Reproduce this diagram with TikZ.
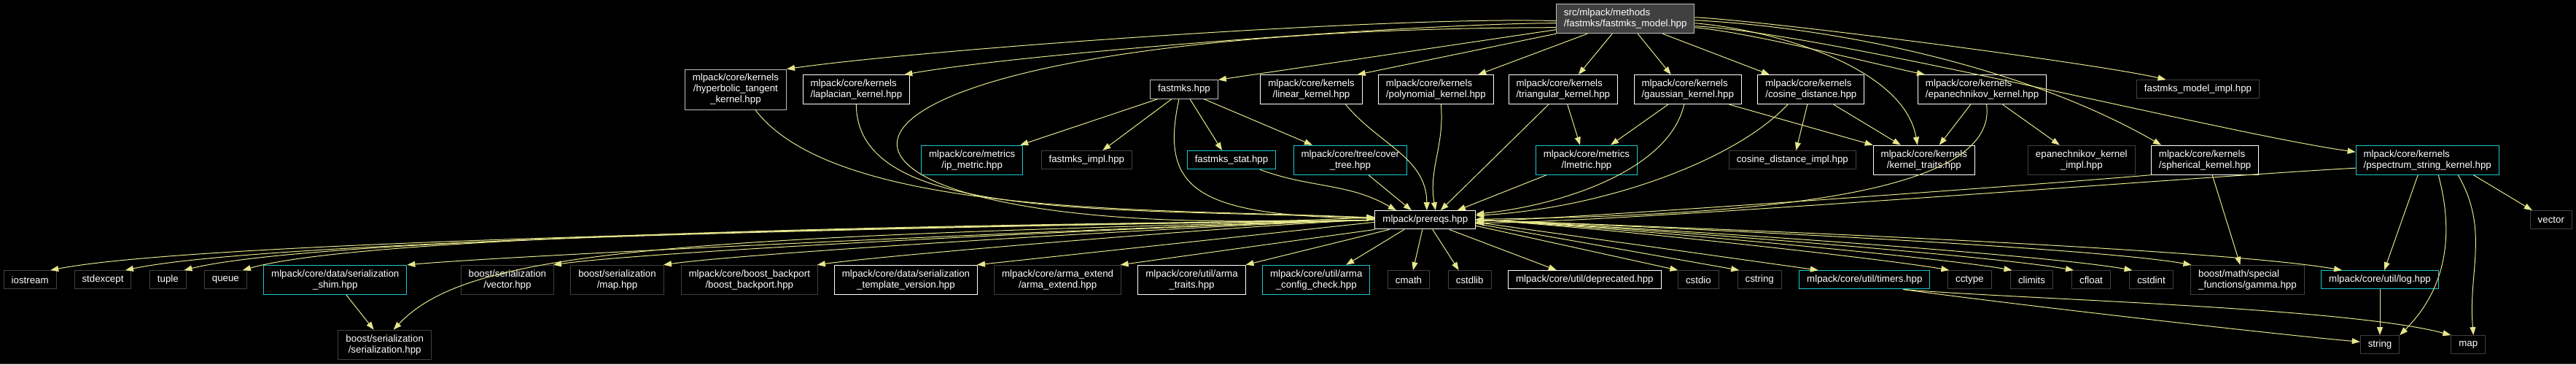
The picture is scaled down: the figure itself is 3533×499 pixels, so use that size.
\documentclass[tikz,border=0pt]{standalone}
\usepackage{fontspec}
\setmainfont{Liberation Sans}
\usetikzlibrary{arrows.meta}
\definecolor{rimgray}{RGB}{191,191,191}
\definecolor{extgray}{RGB}{64,64,64}
\definecolor{linkcyan}{RGB}{25,200,205}
\definecolor{edgeyellow}{RGB}{230,230,140}
\definecolor{rootfill}{RGB}{64,64,64}
\begin{document}
\begin{tikzpicture}[x=1pt, y=1pt,
  file/.style={draw=white, fill=black, text=white, line width=1pt, inner xsep=10.5pt, inner ysep=0pt, align=center, font=\fontsize{13.3}{15}\selectfont},
  ext/.style={file, draw=extgray}, link/.style={file, draw=linkcyan},
  l1/.style={minimum height=25.3pt}, l2/.style={minimum height=40pt}, l3/.style={minimum height=55pt},
  inc/.style={draw=edgeyellow, line width=1pt, -{Triangle[length=11pt,width=8pt]}}]
\useasboundingbox (0,0) rectangle (3533,-499);
\fill[black] (0,0) rectangle (3533,-499); \draw[gray!60!black, line width=1pt] (0,-498.5) -- (3533,-498.5);
\node[file, l2, align=left, fill=rootfill, draw=rimgray] (root) at (2229.2,-25.7) {src/mlpack/methods\\/fastmks/fastmks\_model.hpp};
\node[file, l3, draw=rimgray] (hyperbolic) at (1008.9,-122.5) {mlpack/core/kernels\\/hyperbolic\_tangent\\\_kernel.hpp};
\node[file, l2, align=left] (laplacian) at (1174.4,-122.7) {mlpack/core/kernels\\/laplacian\_kernel.hpp};
\node[file, l1, draw=rimgray] (fastmks) at (1624,-122.5) {fastmks.hpp};
\node[file, l2] (linear) at (1798.5,-122.7) {mlpack/core/kernels\\/linear\_kernel.hpp};
\node[file, l2, align=left] (polynomial) at (1969.3,-122.7) {mlpack/core/kernels\\/polynomial\_kernel.hpp};
\node[file, l2, align=left] (triangular) at (2143.8,-122.7) {mlpack/core/kernels\\/triangular\_kernel.hpp};
\node[file, l2, align=left] (gaussian) at (2314.7,-122.7) {mlpack/core/kernels\\/gaussian\_kernel.hpp};
\node[file, l2, align=left] (cosine) at (2483.8,-122.7) {mlpack/core/kernels\\/cosine\_distance.hpp};
\node[file, l2, align=left] (epan) at (2718.6,-122.7) {mlpack/core/kernels\\/epanechnikov\_kernel.hpp};
\node[ext, l1] (modelimpl) at (3014.5,-122.2) {fastmks\_model\_impl.hpp};
\node[link, l2] (ipmetric) at (1333.2,-219.2) {mlpack/core/metrics\\/ip\_metric.hpp};
\node[ext, l1] (fimpl) at (1490.3,-219.2) {fastmks\_impl.hpp};
\node[link, l1] (fstat) at (1689,-219.2) {fastmks\_stat.hpp};
\node[link, l2] (covertree) at (1851.9,-219.2) {mlpack/core/tree/cover\\\_tree.hpp};
\node[link, l2] (lmetric) at (2176,-219.2) {mlpack/core/metrics\\/lmetric.hpp};
\node[ext, l1] (cosimpl) at (2458.3,-219.2) {cosine\_distance\_impl.hpp};
\node[file, l2] (ktraits) at (2638.8,-219.2) {mlpack/core/kernels\\/kernel\_traits.hpp};
\node[ext, l2] (epanimpl) at (2854.8,-219.2) {epanechnikov\_kernel\\\_impl.hpp};
\node[file, l2, align=left] (spherical) at (3024.1,-219.2) {mlpack/core/kernels\\/spherical\_kernel.hpp};
\node[link, l2, align=left] (pspectrum) at (3329.2,-219.2) {mlpack/core/kernels\\/pspectrum\_string\_kernel.hpp};
\node[file, l1] (prereqs) at (1954.8,-301.3) {mlpack/prereqs.hpp};
\node[ext, l1] (vector) at (3498.8,-301.2) {vector};
\node[ext, l1] (iostream) at (41.2,-383.3) {iostream};
\node[ext, l1] (stdexcept) at (141,-383.3) {stdexcept};
\node[ext, l1] (tuple) at (230.4,-383.3) {tuple};
\node[ext, l1] (queue) at (309.4,-383.3) {queue};
\node[link, l2] (shim) at (459.8,-383.3) {mlpack/core/data/serialization\\\_shim.hpp};
\node[ext, l2] (bvector) at (695.9,-383.3) {boost/serialization\\/vector.hpp};
\node[ext, l2] (bmap) at (846.5,-383.3) {boost/serialization\\/map.hpp};
\node[ext, l2] (backport) at (1027.8,-383.3) {mlpack/core/boost\_backport\\/boost\_backport.hpp};
\node[file, l2] (tversion) at (1242.5,-383.3) {mlpack/core/data/serialization\\\_template\_version.hpp};
\node[ext, l2] (armaext) at (1450.6,-383.3) {mlpack/core/arma\_extend\\/arma\_extend.hpp};
\node[file, l2] (armatraits) at (1634.5,-383.3) {mlpack/core/util/arma\\\_traits.hpp};
\node[link, l2] (armaconf) at (1805.2,-383.3) {mlpack/core/util/arma\\\_config\_check.hpp};
\node[ext, l1] (cmath) at (1932,-383.3) {cmath};
\node[ext, l1] (cstdlib) at (2015.7,-383.3) {cstdlib};
\node[file, l1] (deprecated) at (2173.3,-383.3) {mlpack/core/util/deprecated.hpp};
\node[ext, l1] (cstdio) at (2329.4,-383.3) {cstdio};
\node[ext, l1] (cstring) at (2413.2,-383.3) {cstring};
\node[link, l1] (timers) at (2557.3,-383.3) {mlpack/core/util/timers.hpp};
\node[ext, l1] (cctype) at (2701.3,-383.3) {cctype};
\node[ext, l1] (climits) at (2786.5,-383.3) {climits};
\node[ext, l1] (cfloat) at (2868,-383.3) {cfloat};
\node[ext, l1] (cstdint) at (2950.5,-383.3) {cstdint};
\node[ext, l2, align=left] (gamma) at (3082.4,-383.3) {boost/math/special\\\_functions/gamma.hpp};
\node[link, l1] (log) at (3264,-383.3) {mlpack/core/util/log.hpp};
\node[ext, l2] (serial) at (527.7,-472.2) {boost/serialization\\/serialization.hpp};
\node[ext, l1] (string) at (3264,-472.2) {string};
\node[ext, l1] (map) at (3385.3,-472.2) {map};
\draw[inc] ([yshift=-3]root.west) .. controls +(178:207) and +(8:207) .. (hyperbolic.north east);
\draw[inc] ([yshift=-6]root.west) .. controls +(180:176) and +(10:176) .. ([xshift=-8]laplacian.north east);
\draw[inc] ([yshift=-12]root.west) .. controls (950,-40) and (1000,-345) .. ([yshift=4]prereqs.west);
\draw[inc] ([yshift=-15]root.west) -- (fastmks.north east); \draw[inc] (root.south west) -- ([xshift=-7]linear.north east);
\draw[inc] ([xshift=-52]root.south) -- ([xshift=58]polynomial.north); \draw[inc] ([xshift=-18]root.south) -- ([xshift=21]triangular.north);
\draw[inc] ([xshift=17]root.south) -- ([xshift=-23]gaussian.north); \draw[inc] ([xshift=51]root.south) -- ([xshift=-57]cosine.north);
\draw[inc] ([yshift=-12]root.east) .. controls +(-5:76) and +(168:76) .. ([xshift=10]epan.north west);
\draw[inc] ([yshift=-6]root.east) .. controls +(-5:109) and +(100:109) .. ([xshift=-9]ktraits.north);
\draw[inc] ([yshift=2]root.east) .. controls +(-3:102) and +(167:102) .. ([xshift=-44]modelimpl.north);
\draw[inc] ([yshift=-2]root.east) .. controls +(-3:207) and +(150:207) .. ([xshift=-60]spherical.north);
\draw[inc] ([yshift=-10]root.east) .. controls +(-3:181) and +(172:181) .. ([yshift=11]pspectrum.west);
\draw[inc] ([xshift=-36]fastmks.south) -- ([xshift=66]ipmetric.north); \draw[inc] ([xshift=-17]fastmks.south) -- ([xshift=22]fimpl.north);
\draw[inc] ([xshift=8]fastmks.south) -- ([xshift=-13]fstat.north); \draw[inc] ([xshift=27]fastmks.south) -- ([xshift=-52]covertree.north);
\draw[inc] ([xshift=-7]fastmks.south) .. controls (1590,-260) and (1640,-295) .. ([yshift=2]prereqs.west);
\draw[inc] ([xshift=27]hyperbolic.south) .. controls (1150,-300) and (1600,-285) .. ([yshift=3]prereqs.west);
\draw[inc] (laplacian.south) .. controls (1175,-300) and (1500,-285) .. ([yshift=3]prereqs.west);
\draw[inc] ([xshift=47]linear.south) .. controls +(-50:72) and +(90:72) .. ([xshift=2]prereqs.north);
\draw[inc] ([xshift=7]polynomial.south) .. controls +(-85:57) and +(100:57) .. ([xshift=14]prereqs.north);
\draw[inc] ([xshift=-20]triangular.south) -- ([xshift=21]prereqs.north); \draw[inc] ([xshift=6]triangular.south) -- ([xshift=-9]lmetric.north);
\draw[inc] ([xshift=-55]lmetric.south) -- ([xshift=44]prereqs.north); \draw[inc] ([xshift=25]covertree.south) -- ([xshift=-19]prereqs.north);
\draw[inc] ([xshift=39]fstat.south) .. controls +(-20:76) and +(150:76) .. ([xshift=-40]prereqs.north);
\draw[inc] ([xshift=-5]gaussian.south) .. controls (2290,-230) and (2150,-280) .. ([yshift=8]prereqs.east);
\draw[inc] ([xshift=-32]cosine.south) .. controls (2380,-220) and (2200,-285) .. ([yshift=6]prereqs.east);
\draw[inc] ([xshift=-27]gaussian.south) -- ([xshift=33]lmetric.north); \draw[inc] ([xshift=57]gaussian.south) -- (ktraits.north west);
\draw[inc] ([xshift=-5]cosine.south) -- ([xshift=5]cosimpl.north); \draw[inc] ([xshift=31]cosine.south) -- ([xshift=-32]ktraits.north);
\draw[inc] ([xshift=-16]epan.south) -- ([xshift=21]ktraits.north); \draw[inc] ([xshift=28]epan.south) -- ([xshift=-30]epanimpl.north);
\draw[inc] ([xshift=6]epan.south) .. controls (2740,-260) and (2450,-295) .. ([yshift=1]prereqs.east);
\draw[inc] (spherical.south west) .. controls +(185:146) and +(2:146) .. ([yshift=-2]prereqs.east);
\draw[inc] ([yshift=-11]pspectrum.west) .. controls +(183:190) and +(0:190) .. ([yshift=-4]prereqs.east);
\draw[inc] ([xshift=10]spherical.south) -- ([xshift=-10]gamma.north); \draw[inc] ([xshift=-13]pspectrum.south) -- ([xshift=6]log.north);
\draw[inc] ([xshift=15]pspectrum.south) .. controls +(-75:88) and +(45:88) .. (string.north east);
\draw[inc] ([xshift=42]pspectrum.south) .. controls +(-60:87) and +(95:87) .. ([xshift=7]map.north);
\draw[inc] ([xshift=63]pspectrum.south) -- ([xshift=-26]vector.north); \draw[inc] (log) -- (string);
\draw[inc] ([xshift=53]timers.south) .. controls +(-8:123) and +(175:123) .. ([yshift=4]string.west);
\draw[inc] ([xshift=53]timers.south) .. controls +(-5:148) and +(165:148) .. (map.north west);
\draw[inc] ([xshift=15]shim.south) -- ([xshift=-15]serial.north);
\foreach \n/\a/\s/\d in {iostream/11/28/249, stdexcept/12/31/235, tuple/14/22/224, queue/16/23.5/213, bvector/8/63/154, bmap/8/63.5/134, backport/8/93/104}
  \draw[inc] (prereqs.west) .. controls +(181:\d) and +(\a:\d) .. ([xshift=\s]\n.north);
\draw[inc] (prereqs.west) .. controls +(181:182) and +(5:182) .. (shim.north east);
\draw[inc] (prereqs.west) .. controls (900,-325) and (640,-345) .. ([xshift=12]serial.north);
\draw[inc] ([yshift=-3]prereqs.west) -- ([xshift=97.5]tversion.north); \draw[inc] (prereqs.south west) -- ([xshift=86]armaext.north);
\draw[inc] ([xshift=20]prereqs.south west) -- ([xshift=74]armatraits.north); \draw[inc] ([xshift=-29]prereqs.south) -- ([xshift=41]armaconf.north);
\draw[inc] ([xshift=-4]prereqs.south) -- ([xshift=6]cmath.north); \draw[inc] ([xshift=10]prereqs.south) -- ([xshift=-15]cstdlib.north);
\draw[inc] ([xshift=33]prereqs.south) -- ([xshift=-38.5]deprecated.north);
\draw[inc] ([yshift=-8]prereqs.east) -- ([xshift=-28]cstdio.north); \draw[inc] ([yshift=-5]prereqs.east) -- ([xshift=-28]cstring.north);
\draw[inc] ([yshift=-3]prereqs.east) -- ([xshift=-63.5]timers.north);
\foreach \n/\s/\d in {cctype/-28/103, climits/-27/116, cfloat/-24/129, cstdint/-26/141, gamma/-77/153, log/-52/187}
  \draw[inc] (prereqs.east) .. controls +(-2:\d) and +(170:\d) .. ([xshift=\s]\n.north);
\end{tikzpicture}
\end{document}
